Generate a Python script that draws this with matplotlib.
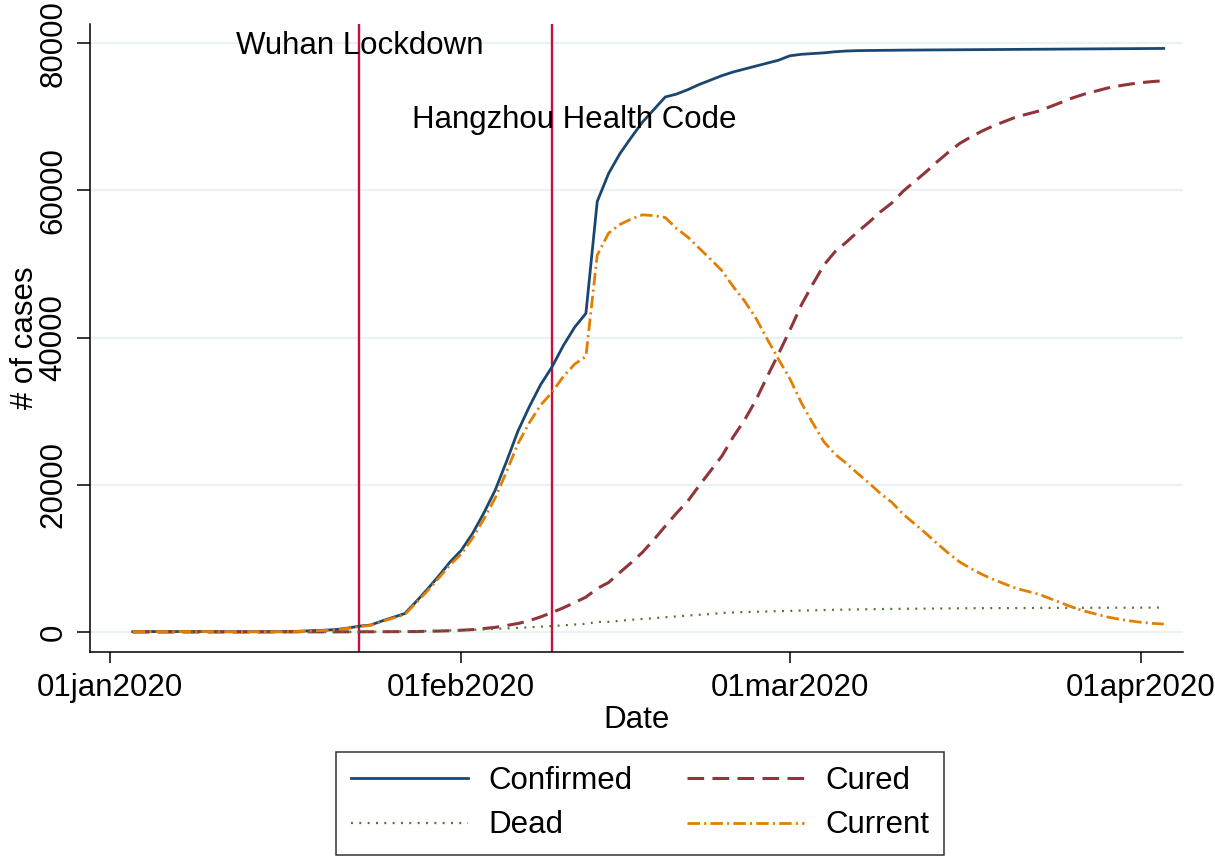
import matplotlib.pyplot as plt
import numpy as np
import pandas as pd

plt.rcParams['font.family'] = ['Liberation Sans', 'DejaVu Sans']
plt.rcParams['lines.scale_dashes'] = False

# daily series, 03jan2020 .. 03apr2020
dates = pd.date_range('2020-01-03', '2020-04-03', freq='D')

confirmed = [44, 44, 59, 59, 59, 59, 59, 59, 41, 41, 41, 41, 41, 45, 62, 121,
             198, 250, 340, 540, 800, 950, 1500, 2000, 2500, 4100, 5800, 7600,
             9500, 11100, 13400, 16200, 19300, 23200, 27300, 30600, 33600,
             36000, 38900, 41400, 43300, 58500, 62300, 65000, 67200, 69300,
             71000, 72700, 73100, 73700, 74400, 75000, 75600, 76100, 76500,
             76900, 77300, 77700, 78300, 78500, 78600, 78700, 78850, 78950,
             79000, 79020, 79040, 79050, 79070, 79080, 79090, 79100, 79110,
             79120, 79130, 79140, 79150, 79160, 79170, 79180, 79190, 79200,
             79210, 79220, 79230, 79240, 79250, 79260, 79270, 79280, 79290,
             79300]
cured = [0, 0, 0, 0, 0, 0, 0, 0, 2, 5, 6, 7, 12, 15, 19, 24, 25, 25, 25, 28,
         28, 34, 38, 49, 51, 60, 103, 124, 171, 243, 328, 475, 632, 892, 1153,
         1540, 2050, 2649, 3281, 3996, 4740, 5911, 6723, 8096, 9419, 10844,
         12552, 14376, 16155, 17800, 19900, 21900, 23900, 26500, 28800, 31500,
         34700, 37800, 41000, 44400, 47204, 49856, 51700, 53000, 54400, 55700,
         57100, 58300, 59900, 61200, 62500, 63900, 65200, 66400, 67300, 68100,
         68800, 69400, 70000, 70400, 70800, 71400, 72000, 72600, 73100, 73500,
         73900, 74200, 74450, 74650, 74800, 74900]
dead = [0, 0, 0, 0, 0, 0, 0, 0, 1, 1, 1, 1, 1, 2, 2, 3, 3, 4, 6, 9, 17, 25,
        41, 56, 80, 106, 132, 170, 213, 259, 304, 361, 425, 490, 563, 636,
        722, 811, 908, 1016, 1113, 1367, 1380, 1523, 1665, 1770, 1868, 2004,
        2118, 2236, 2345, 2442, 2592, 2663, 2715, 2744, 2788, 2835, 2870, 2912,
        2943, 2981, 3012, 3042, 3070, 3097, 3119, 3136, 3158, 3169, 3176, 3189,
        3199, 3213, 3226, 3237, 3245, 3248, 3255, 3261, 3270, 3277, 3281, 3287,
        3292, 3295, 3300, 3304, 3305, 3312, 3318, 3322]
current = [44, 44, 59, 59, 59, 59, 59, 59, 38, 35, 34, 33, 28, 28, 41, 94,
           170, 221, 309, 503, 755, 891, 1421, 1895, 2369, 3934, 5565, 7306,
           9116, 10598, 12768, 15364, 18243, 21818, 25584, 28424, 30828, 32540,
           34711, 36388, 37447, 51222, 54197, 55381, 56116, 56686, 56580, 56320,
           54827, 53664, 52155, 50658, 49108, 46937, 44985, 42656, 39812, 37065,
           34430, 31188, 28453, 25863, 24138, 22908, 21530, 20223, 18821, 17614,
           16012, 14711, 13414, 12011, 10711, 9507, 8604, 7803, 7105, 6512, 5915,
           5519, 5120, 4523, 3929, 3333, 2838, 2445, 2050, 1756, 1515, 1318,
           1172, 1078]

events = [('2020-01-23', '2020-01-23', 79600, 'Wuhan Lockdown'),
          ('2020-02-09', '2020-02-11', 69600, 'Hangzhou Health Code')]

xtick_dates = ['2020-01-01', '2020-02-01', '2020-03-01', '2020-04-01']
xtick_labels = ['01jan2020', '01feb2020', '01mar2020', '01apr2020']
yticks = [0, 20000, 40000, 60000, 80000]

W, H = 1215, 858
FS = 22.5
fig = plt.figure(figsize=(W / 100, H / 100), dpi=100)
ax = fig.add_axes([90 / W, 1 - 651.7 / H, (1183 - 90) / W, (651.7 - 24) / H])

for y in yticks:
    ax.axhline(y, color='#eaf2f3', lw=1.6, zorder=0)

for line_date, text_date, ty, txt in events:
    ax.axvline(pd.Timestamp(line_date), color='#c8103c', lw=1.7, zorder=1.5)
    ax.text(pd.Timestamp(text_date), ty, txt, ha='center', va='center',
            fontsize=FS, zorder=5)

l1, = ax.plot(dates, confirmed, color='#1a476f', lw=2.0, label='Confirmed')
l2, = ax.plot(dates, cured, color='#90353b', lw=2.2, dashes=(12, 6),
              label='Cured')
l3, = ax.plot(dates, dead, color='#55752f', lw=1.6, dashes=(1.4, 4.6),
              label='Dead')
l4, = ax.plot(dates, current, color='#e37e00', lw=2.0,
              dashes=(9, 3, 1.5, 3), label='Current')

t0 = pd.Timestamp('2020-01-01')
ax.set_xlim(t0 - pd.Timedelta(days=1.77), t0 + pd.Timedelta(days=94.7))
ax.set_ylim(-2677, 82620)

ax.set_xticks([pd.Timestamp(d) for d in xtick_dates])
ax.set_xticklabels(xtick_labels)
ax.set_yticks(yticks)
ax.set_yticklabels([str(v) for v in yticks], rotation=90, va='center')

ax.tick_params(axis='x', labelsize=FS, length=8, width=1.1, pad=7.5)
ax.tick_params(axis='y', labelsize=FS, length=9.5, width=1.1, pad=6)
for s in ['top', 'right']:
    ax.spines[s].set_visible(False)
for s in ['left', 'bottom']:
    ax.spines[s].set_linewidth(1.1)

ax.set_xlabel('Date', fontsize=FS, labelpad=1)
ax.set_ylabel('# of cases', fontsize=FS, labelpad=-1)

leg = fig.legend([l1, l3, l2, l4], ['Confirmed', 'Dead', 'Cured', 'Current'],
                 ncol=2, loc='upper center', borderaxespad=0,
                 bbox_to_anchor=(640 / W, 1 - 752 / H), fontsize=FS,
                 frameon=True, fancybox=False, edgecolor='black',
                 handlelength=3.74, handletextpad=0.67, columnspacing=1.75,
                 labelspacing=0.45, borderpad=0.46)
leg.get_frame().set_linewidth(1.1)

fig.savefig('out.png', dpi=100)
